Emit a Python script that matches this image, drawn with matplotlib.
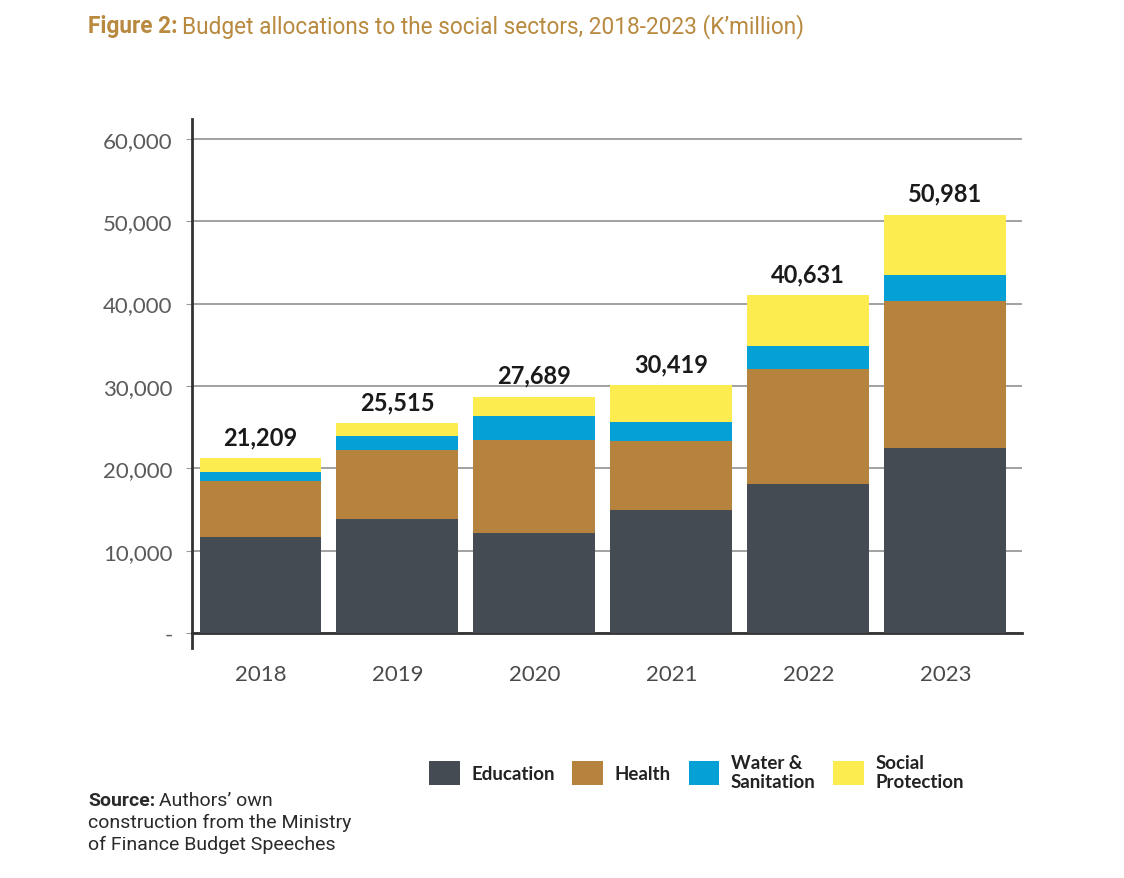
import matplotlib
matplotlib.use("Agg")
import matplotlib.pyplot as plt
import numpy as np
from matplotlib.ticker import FuncFormatter
from matplotlib.patches import Patch
from matplotlib.lines import Line2D

years = ["2018", "2019", "2020", "2021", "2022", "2023"]
education = [11600, 13900, 12200, 14900, 18100, 22400]
health = [6800, 8300, 11200, 8400, 13900, 17900]
water_sanitation = [1100, 1700, 3000, 2300, 2900, 3200]
social_protection = [1700, 1600, 2300, 4450, 6100, 7300]
total_labels = ["21,209", "25,515", "27,689", "30,419", "40,631", "50,981"]
series_names = ["Education", "Health", "Water &\nSanitation", "Social\nProtection"]
y_ticks = [0, 10000, 20000, 30000, 40000, 50000, 60000]

colors = ["#454B53", "#B5833D", "#04A0D6", "#FDEC4F"]
title_color = "#B8893E"

fig = plt.figure(figsize=(11.24, 8.79), dpi=100)
ax = fig.add_axes([192/1124, 1-634/879, (1022-192)/1124, (634-120)/879])

x = np.arange(len(years))
series = [education, health, water_sanitation, social_protection]
bottom = np.zeros(len(years))
for vals, c, name in zip(series, colors, series_names):
    ax.bar(x, vals, width=0.89, bottom=bottom, color=c, label=name, zorder=3, linewidth=0)
    bottom += np.array(vals)

for xi, top, lab in zip(x, bottom, total_labels):
    ax.annotate(lab, (xi, top), xytext=(0, 7), textcoords="offset points",
                ha="center", va="bottom", fontsize=17, fontweight="bold",
                color="#1a1a1a", family="Lato")

ax.set_xlim(-0.5, 5.56)
ax.set_ylim(0, 62400)
ax.set_yticks(y_ticks)
ax.yaxis.set_major_formatter(FuncFormatter(lambda v, p: "-" if v == 0 else f"{int(v):,}"))
ax.set_xticks(x)
ax.set_xticklabels(years)
ax.grid(axis="y", color="#9a9a9a", linewidth=1.3, zorder=0)
ax.set_axisbelow(True)
for s in ["top", "right"]:
    ax.spines[s].set_visible(False)
ax.spines["left"].set_color("#333333")
ax.spines["left"].set_linewidth(2)
ax.spines["bottom"].set_color("#333333")
ax.spines["bottom"].set_linewidth(2)
ax.tick_params(axis="y", length=4, color="#9a9a9a", labelsize=16, labelcolor="#5a5a5a", pad=10)
ax.tick_params(axis="x", length=0, labelsize=16, labelcolor="#4a4a4a", pad=22)
for lbl in ax.get_xticklabels() + ax.get_yticklabels():
    lbl.set_family("Lato")
# extension of y axis below baseline
ax.add_line(Line2D([0, 0], [0, -0.03], transform=ax.transAxes, color="#333333",
                   linewidth=2, clip_on=False))

handles = [Patch(facecolor=c, edgecolor="none") for c in colors]
leg = fig.legend(handles, series_names, ncol=4, loc="center left",
                 bbox_to_anchor=(412/1124, 1-773/879), frameon=False,
                 prop={"family": "Lato", "weight": "bold", "size": 13.5},
                 handlelength=1.65, handleheight=1.65, handletextpad=0.6,
                 columnspacing=0.95, labelspacing=0.2)
for t in leg.get_texts():
    t.set_color("#222222")
    t.set_linespacing(1.2)

renderer = fig.canvas.get_renderer()

def two_part(xpx, ypx, bold, rest, size, color, family):
    t1 = fig.text(xpx/1124, 1-ypx/879, bold, fontsize=size, fontweight="bold",
                  color=color, family=family, va="center", ha="left")
    bb = t1.get_window_extent(renderer=renderer)
    fig.text(bb.x1/1124 + 4/1124, 1-ypx/879, rest, fontsize=size, color=color,
             family=family, va="center", ha="left")

two_part(88, 27, "Figure 2:", "Budget allocations to the social sectors, 2018-2023 (K\u2019million)",
         16.3, title_color, "Roboto")

two_part(88, 801, "Source:", "Authors\u2019 own", 14, "#2a2a2a", "Roboto")
fig.text(88/1124, 1-823/879, "construction from the Ministry", fontsize=14,
         color="#2a2a2a", family="Roboto", va="center")
fig.text(88/1124, 1-845/879, "of Finance Budget Speeches", fontsize=14,
         color="#2a2a2a", family="Roboto", va="center")

fig.savefig("out.png", dpi=100)
